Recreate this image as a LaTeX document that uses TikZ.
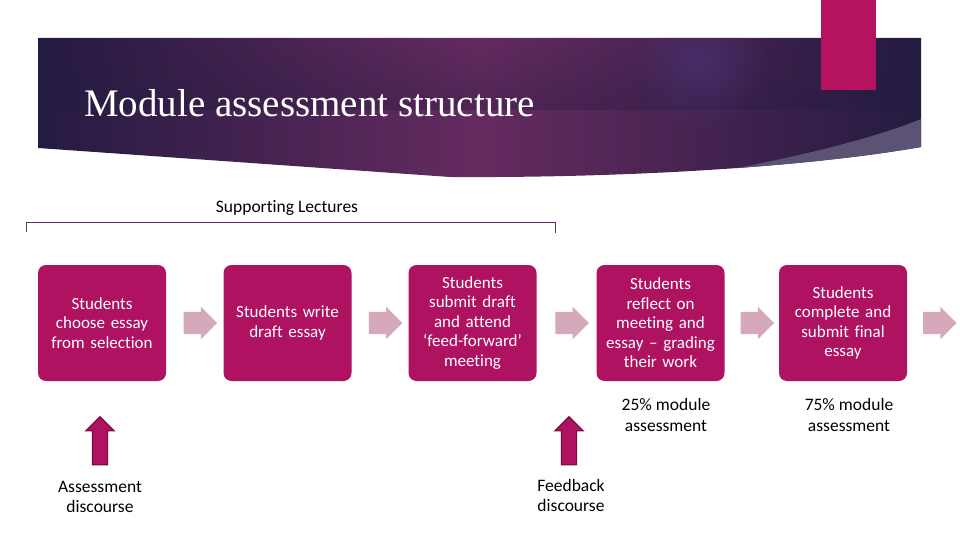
\documentclass[tikz,border=0pt]{standalone}
\usepackage{fontspec}
\setmainfont{Carlito}[Ligatures=NoCommon]
\newfontfamily\titlefont{Liberation Serif}
\usetikzlibrary{shapes.arrows,calc,fadings}
\usepackage{xcolor}
\definecolor{banddark}{HTML}{241B40}
\definecolor{bandmid}{HTML}{662B60}
\definecolor{bandglow}{HTML}{4B3478}
\definecolor{wedge}{HTML}{5B5274}
\definecolor{stage}{HTML}{AF1260}
\definecolor{corner}{HTML}{B5135F}
\definecolor{flow}{HTML}{D6A8BC}
\definecolor{upline}{HTML}{7A0B43}
\definecolor{bracket}{HTML}{6B2D6A}
\tikzfading[name=glowfade,inner color=transparent!0,outer color=transparent!100]

\begin{document}
\begin{tikzpicture}[x=1pt,y=-1pt,
	stagebox/.style={fill=stage,rounded corners=8pt,minimum width=128pt,minimum height=116pt,text width=124pt,align=center,inner sep=0pt,text=white,font=\fontsize{17}{19.5}\selectfont},
	flowarrow/.style={single arrow,fill=flow,inner sep=11pt,minimum height=30pt,single arrow head extend=5pt},
	uparrow/.style={single arrow,shape border rotate=90,fill=stage,draw=upline,line width=1.2pt,inner sep=7pt,minimum height=48pt,single arrow head extend=6.5pt},
	note/.style={align=center,text=black,font=\fontsize{17.5}{20.5}\selectfont}]
	\useasboundingbox (0,0) rectangle (960,540);
	% banner
	\begin{scope}
		\clip (38,38) -- (921,38) -- (921,147) .. controls (800,168) and (620,178) .. (450,177) -- (38,148) -- cycle;
		\shade [left color=banddark,right color=banddark,middle color=bandmid] (38,38) rectangle (921,180);
		\fill [banddark,path fading=north,opacity=0.35] (38,38) rectangle (921,110);
		\fill [bandglow,path fading=glowfade,opacity=0.6] (700,62) circle (70);
		\fill [wedge] (660,182) .. controls (780,162) and (870,140) .. (921,119) -- (930,119) -- (930,190) -- cycle;
	\end{scope}
	\fill [corner] (821,0) rectangle (876,90);
	\node [anchor=base west,text=white,inner sep=0pt] (title) at (84,117) {\titlefont\fontsize{39}{40}\selectfont Module assessment structure};
	% lectures bracket
	\node [note] (lect) at (287,208) {Supporting Lectures};
	\draw [bracket,line width=0.9pt] (26,232) -- (26,222) -- (555,222) -- (555,233);
	% stages
	\node [stagebox] (s1) at (102,323) {Students\\choose essay\\from selection};
	\node [stagebox] (s2) at (287.5,323) {Students write\\draft essay};
	\node [stagebox] (s3) at (472.5,323) {Students\\submit draft\\and attend\\‘feed-forward’\\meeting};
	\node [stagebox] (s4) at (660.5,323) {Students\\reflect on\\meeting and\\essay -- grading\\their work};
	\node [stagebox] (s5) at (843,323) {Students\\complete and\\submit final\\essay};
	\node [flowarrow] (a1) at ($(s1.east)!0.5!(s2.west)$) {};
	\node [flowarrow] (a2) at ($(s2.east)!0.5!(s3.west)$) {};
	\node [flowarrow] (a3) at ($(s3.east)!0.5!(s4.west)$) {};
	\node [flowarrow] (a4) at ($(s4.east)!0.5!(s5.west)$) {};
	\node [flowarrow] (a5) at ($(s5.east)+(27,0)$) {};
	% weightings
	\node [note] (w1) at (666,415) {25\% module\\assessment};
	\node [note] (w2) at (849,415) {75\% module\\assessment};
	% discourses
	\node [uparrow] (u1) at (100,444.5) {};
	\node [note] (d1) at (100,497) {Assessment\\discourse};
	\node [uparrow] (u2) at (569,444.5) {};
	\node [note] (d2) at (571,495.5) {Feedback\\discourse};
\end{tikzpicture}
\end{document}
